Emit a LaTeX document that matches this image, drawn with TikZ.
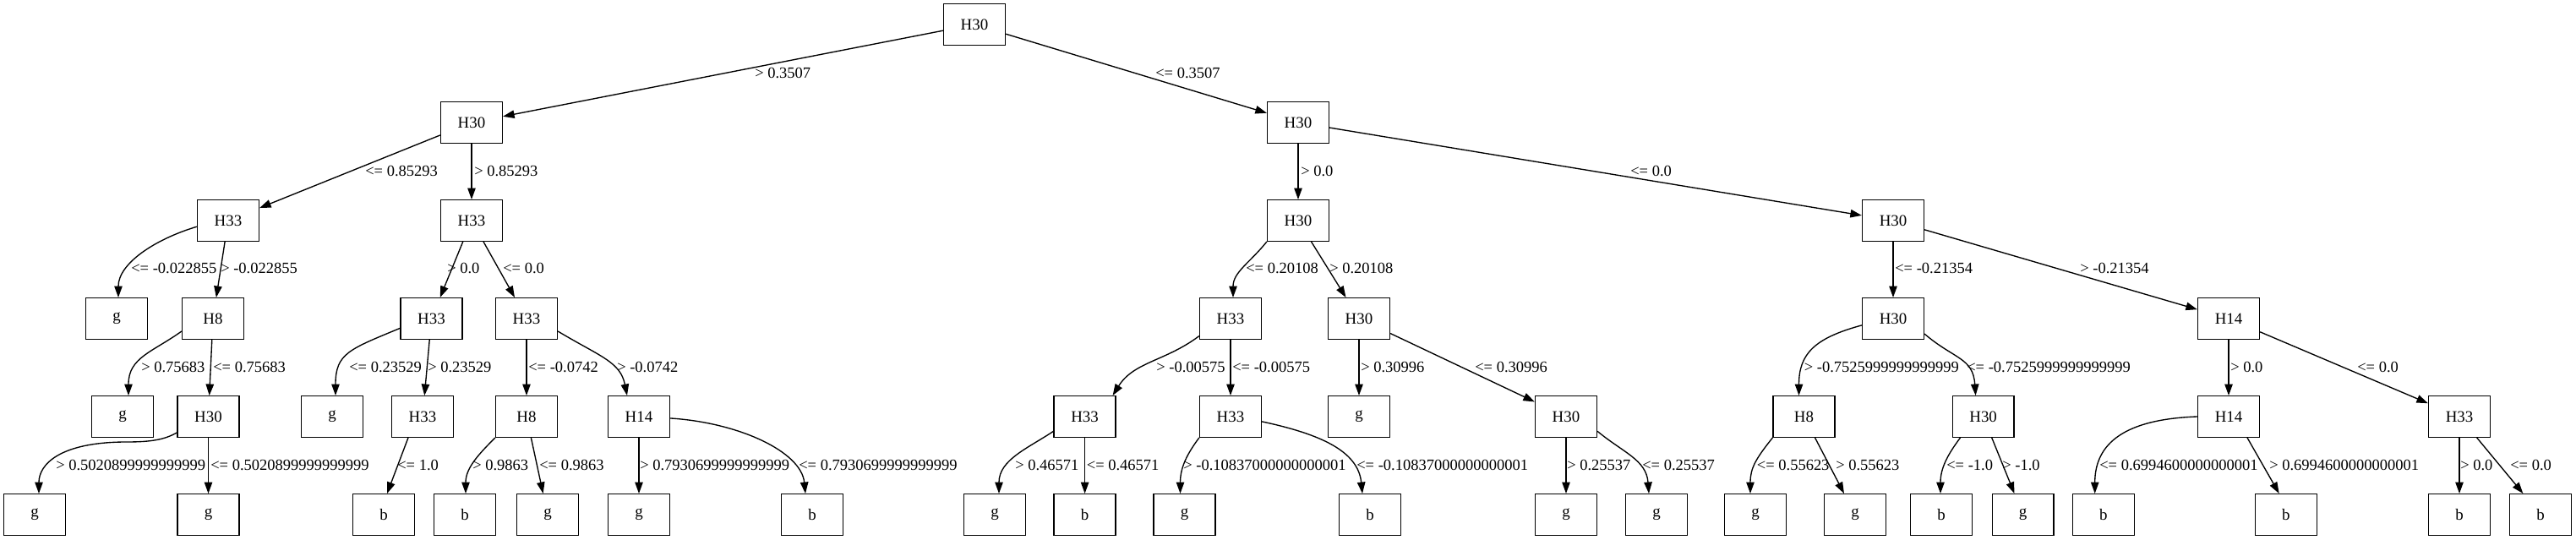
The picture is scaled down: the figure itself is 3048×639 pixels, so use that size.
\documentclass[tikz,border=0pt]{standalone}
\usepackage{fontspec}
\setmainfont{Liberation Serif}
\usetikzlibrary{arrows.meta,calc}
\begin{document}
\begin{tikzpicture}[x=0.7407pt,y=-0.7407pt,
  box/.style={draw,line width=1pt,rectangle,minimum width=54pt,minimum height=36pt,inner sep=0pt,font=\fontsize{14}{16}\selectfont},
  edge/.style={line width=1pt,-{Triangle[length=10pt,width=7pt]}},
  lbl/.style={inner sep=0pt,anchor=base west,font=\fontsize{13.7}{16}\selectfont}]
\useasboundingbox (0,0) rectangle (3048,639);
% level 0-2
\node[box] (r) at (1153,29) {H30};
\node[box] (a) at (558,145) {H30};
\node[box] (b) at (1536,145) {H30};
\node[box] (aa) at (270,261) {H33};
\node[box] (ab) at (558,261) {H33};
\node[box] (ba) at (1536,261) {H30};
\node[box] (bb) at (2240,261) {H30};
% level 3
\node[box] (aaa) at (138,377) {g};
\node[box] (aab) at (252,377) {H8};
\node[box] (aba) at (510.5,377) {H33};
\node[box] (abb) at (623,377) {H33};
\node[box] (baa) at (1456,377) {H33};
\node[box] (bab) at (1608,377) {H30};
\node[box] (bba) at (2240,377) {H30};
\node[box] (bbb) at (2637,377) {H14};
% level 4
\node[box] (aaba) at (145,493) {g};
\node[box] (aabb) at (246.5,493) {H30};
\node[box] (abaa) at (393,493) {g};
\node[box] (abab) at (500,493) {H33};
\node[box] (abba) at (623,493) {H8};
\node[box] (abbb) at (756,493) {H14};
\node[box] (baaa) at (1283.6,493) {H33};
\node[box] (baab) at (1456,493) {H33};
\node[box] (baba) at (1608,493) {g};
\node[box] (babb) at (1853,493) {H30};
\node[box] (bbaa) at (2134.5,493) {H8};
\node[box] (bbab) at (2346.6,493) {H30};
\node[box] (bbba) at (2637,493) {H14};
\node[box] (bbbb) at (2910,493) {H33};
% level 5
\node[box] (aabba) at (41,609) {g};
\node[box] (aabbb) at (246.5,609) {g};
\node[box] (ababa) at (454,609) {b};
\node[box] (abbaa) at (550,609) {b};
\node[box] (abbab) at (648,609) {g};
\node[box] (abbba) at (756,609) {g};
\node[box] (abbbb) at (961,609) {b};
\node[box] (baaaa) at (1177,609) {g};
\node[box] (baaab) at (1283.6,609) {b};
\node[box] (baaba) at (1401.5,609) {g};
\node[box] (baabb) at (1621,609) {b};
\node[box] (babba) at (1853,609) {g};
\node[box] (babbb) at (1960,609) {g};
\node[box] (bbaaa) at (2077,609) {g};
\node[box] (bbaab) at (2195,609) {g};
\node[box] (bbaba) at (2297,609) {b};
\node[box] (bbabb) at (2393.6,609) {g};
\node[box] (bbbaa) at (2488.7,609) {b};
\node[box] (bbbab) at (2704.7,609) {b};
\node[box] (bbbba) at (2910,609) {b};
\node[box] (bbbbb) at (3006,609) {b};

% edges level 0-1
\draw[edge] (r) -- (a);
\node[lbl] (l-a) at (893,93) {> 0.3507};
\draw[edge] (r) -- (b);
\node[lbl] (l-b) at (1367,93) {<= 0.3507};
% level 1-2
\draw[edge] (a) -- (aa);
\node[lbl] (l-aa) at (432,209) {<= 0.85293};
\draw[edge] (a) -- (ab);
\node[lbl] (l-ab) at (561,209) {> 0.85293};
\draw[edge] (b) -- (ba);
\node[lbl] (l-ba) at (1539,209) {> 0.0};
\draw[edge] (b) -- (bb);
\node[lbl] (l-bb) at (1929,209) {<= 0.0};
% level 2-3
\draw[edge] (aa.191) .. controls +(-50,15) and +(0,-40) .. ($(aaa.north)+(2,0)$);
\node[lbl] (l-aaa) at (155,324) {<= -0.022855};
\draw[edge] (aa) -- (aab);
\node[lbl] (l-aab) at (261,324) {> -0.022855};
\draw[edge] (ab) -- (aba);
\node[lbl] (l-aba) at (529,324) {> 0.0};
\draw[edge] (ab) -- (abb);
\node[lbl] (l-abb) at (595,324) {<= 0.0};
\draw[edge] (ba.south west) .. controls +(-20,25) and +(0,-30) .. ($(baa.north)+(3,0)$);
\node[lbl] (l-baa) at (1474,324) {<= 0.20108};
\draw[edge] (ba) -- (bab);
\node[lbl] (l-bab) at (1573,324) {> 0.20108};
\draw[edge] (bb) -- (bba);
\node[lbl] (l-bba) at (2242,324) {<= -0.21354};
\draw[edge] (bb) -- (bbb);
\node[lbl] (l-bbb) at (2461,324) {> -0.21354};
% level 3-4
\draw[edge] (aab.202) .. controls +(-35,25) and +(0,-45) .. ($(aaba.north)+(7,0)$);
\node[lbl] (l-aaba) at (167,440) {> 0.75683};
\draw[edge] (aab) -- (aabb);
\node[lbl] (l-aabb) at (252,440) {<= 0.75683};
\draw[edge] (aba.197) .. controls +(-60,25) and +(0,-50) .. ($(abaa.north)+(4,0)$);
\node[lbl] (l-abaa) at (413,440) {<= 0.23529};
\draw[edge] (aba) -- (abab);
\node[lbl] (l-abab) at (506,440) {> 0.23529};
\draw[edge] (abb) -- (abba);
\node[lbl] (l-abba) at (625,440) {<= -0.0742};
\draw[edge] (abb.338) .. controls +(50,30) and +(-8,-40) .. ($(abbb.north)+(-14,0)$);
\node[lbl] (l-abbb) at (730,440) {> -0.0742};
\draw[edge] (baa.209) .. controls +(-40,30) and +(25,-40) .. ($(baaa.north)+(33,0)$);
\node[lbl] (l-baaa) at (1368,440) {> -0.00575};
\draw[edge] (baa) -- (baab);
\node[lbl] (l-baab) at (1458,440) {<= -0.00575};
\draw[edge] (bab) -- (baba);
\node[lbl] (l-baba) at (1610,440) {> 0.30996};
\draw[edge] (bab) -- (babb);
\node[lbl] (l-babb) at (1745,440) {<= 0.30996};
\draw[edge] (bba.192) .. controls +(-55,15) and +(0,-50) .. ($(bbaa.north)+(-6,0)$);
\node[lbl] (l-bbaa) at (2134.5,440) {> -0.7525999999999999};
\draw[edge] (bba.334) .. controls +(35,30) and +(-3,-45) .. ($(bbab.north)+(-9,0)$);
\node[lbl] (l-bbab) at (2327,440) {<= -0.7525999999999999};
\draw[edge] (bbb) -- (bbba);
\node[lbl] (l-bbba) at (2639,440) {> 0.0};
\draw[edge] (bbb) -- (bbbb);
\node[lbl] (l-bbbb) at (2789,440) {<= 0.0};
% level 4-5
\draw[edge] (aabb.207) .. controls (195,520) and (180,523) .. (150,523) .. controls (70,523) and (46,550) .. ($(aabba.north)+(5,0)$);
\node[lbl] (l-aabba) at (66,556) {> 0.5020899999999999};
\draw[edge] (aabb) -- (aabbb);
\node[lbl] (l-aabbb) at (249,556) {<= 0.5020899999999999};
\draw[edge] ($(abab.south)+(-17,0)$) -- ($(ababa.north)+(4,0)$);
\node[lbl] (l-ababa) at (470,556) {<= 1.0};
\draw[edge] (abba.south west) .. controls +(-20,20) and +(0,-30) .. ($(abbaa.north)+(1,0)$);
\node[lbl] (l-abbaa) at (559,556) {> 0.9863};
\draw[edge] (abba) -- (abbab);
\node[lbl] (l-abbab) at (638,556) {<= 0.9863};
\draw[edge] (abbb) -- (abbba);
\node[lbl] (l-abbba) at (757,556) {> 0.7930699999999999};
\draw[edge] (abbb.357) .. controls +(80,5) and +(-5,-50) .. ($(abbbb.north)+(-8,0)$);
\node[lbl] (l-abbbb) at (945,556) {<= 0.7930699999999999};
\draw[edge] (baaa.205) .. controls +(-30,20) and +(0,-40) .. ($(baaaa.north)+(5,0)$);
\node[lbl] (l-baaaa) at (1201,556) {> 0.46571};
\draw[edge] (baaa) -- (baaab);
\node[lbl] (l-baaab) at (1285.6,556) {<= 0.46571};
\draw[edge] (baab.south west) .. controls +(-15,20) and +(0,-30) .. ($(baaba.north)+(-5,0)$);
\node[lbl] (l-baaba) at (1400,556) {> -0.10837000000000001};
\draw[edge] (baab.351) .. controls +(70,15) and +(-5,-50) .. ($(baabb.north)+(-9,0)$);
\node[lbl] (l-baabb) at (1605,556) {<= -0.10837000000000001};
\draw[edge] (babb) -- (babba);
\node[lbl] (l-babba) at (1854,556) {> 0.25537};
\draw[edge] (babb.335) .. controls +(30,25) and +(-3,-40) .. ($(babbb.north)+(-9,0)$);
\node[lbl] (l-babbb) at (1943,556) {<= 0.25537};
\draw[edge] (bbaa.south west) .. controls +(-20,25) and +(0,-30) .. ($(bbaaa.north)+(-6,0)$);
\node[lbl] (l-bbaaa) at (2078.6,556) {<= 0.55623};
\draw[edge] (bbaa) -- (bbaab);
\node[lbl] (l-bbaab) at (2172,556) {> 0.55623};
\draw[edge] ($(bbab.south west)+(10,0)$) .. controls +(-15,20) and +(0,-30) .. ($(bbaba.north)+(-1,0)$);
\node[lbl] (l-bbaba) at (2303,556) {<= -1.0};
\draw[edge] (bbab) -- (bbabb);
\node[lbl] (l-bbabb) at (2369,556) {> -1.0};
\draw[edge] (bbba.west) .. controls +(-85,3) and +(0,-60) .. ($(bbbaa.north)+(-10,0)$);
\node[lbl] (l-bbbaa) at (2484,556) {<= 0.6994600000000001};
\draw[edge] ($(bbba.south)+(22,0)$) -- ($(bbbab.north)+(-8,0)$);
\node[lbl] (l-bbbab) at (2685,556) {> 0.6994600000000001};
\draw[edge] (bbbb) -- (bbbba);
\node[lbl] (l-bbbba) at (2911,556) {> 0.0};
\draw[edge] (bbbb) -- (bbbbb);
\node[lbl] (l-bbbbb) at (2970,556) {<= 0.0};
\end{tikzpicture}
\end{document}
